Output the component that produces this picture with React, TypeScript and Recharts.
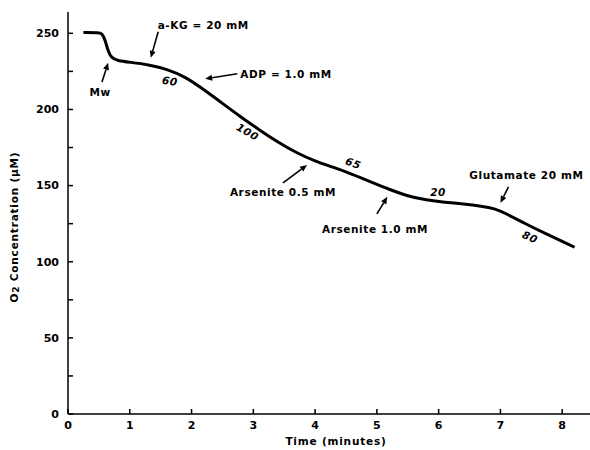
import React from 'react';
import {
  LineChart,
  Line,
  XAxis,
  YAxis,
  ReferenceDot,
  ReferenceLine,
  Label,
} from 'recharts';

// oxygen trace (time in min, O2 in µM)
const times = [0.25, 0.5, 0.55, 0.6, 0.65, 0.7, 0.8, 1.0, 1.3, 1.6, 1.9, 2.2, 2.5, 2.8, 3.1, 3.4, 3.7, 4.0, 4.3, 4.6, 4.9, 5.2, 5.5, 5.8, 6.1, 6.4, 6.7, 6.9, 7.1, 7.4, 7.7, 8.0, 8.2];
const o2 = [250.5, 250.5, 250, 246, 238, 234, 232, 231, 229.5, 226.5, 221.5, 213, 204, 195, 186.5, 178.5, 171.5, 166, 162, 157.5, 152.5, 147.5, 143, 140.5, 139, 138, 136.5, 135, 131.5, 125, 119, 113.5, 109.5];

const xTicks = [0, 1, 2, 3, 4, 5, 6, 7, 8];
const yTicks = [0, 25, 50, 75, 100, 125, 150, 175, 200, 225, 250];

// text annotations: label, time, O2, rotation
const noteText = ['a-KG = 20 mM', 'Mw', 'ADP = 1.0 mM', '60', '100', '65', '20', '80', 'Arsenite 0.5 mM', 'Arsenite 1.0 mM', 'Glutamate 20 mM'];
const noteX = [2.19, 0.52, 3.53, 1.65, 2.91, 4.62, 5.99, 7.48, 3.48, 4.97, 7.42];
const noteY = [255.6, 211.6, 223.4, 218.8, 185.3, 164.9, 145.9, 116.3, 145.9, 121.5, 157];
const noteRot = [0, 0, 0, 10, 30, 20, 0, 25, 0, 0, 0];

// arrows: tail -> tip
const arrowFrom = [[0.55, 218], [1.46, 251], [2.74, 223.4], [3.48, 151.8], [5.0, 131.4], [7.13, 149.1]];
const arrowTo = [[0.65, 230.6], [1.34, 233.9], [2.22, 220.1], [3.87, 163.6], [5.17, 142.6], [7.0, 138.6]];

const data = times.map((t, i) => ({ t, o2: o2[i] }));

const FONT = '"DejaVu Sans", sans-serif';

const Arrow = (p: any) => {
  const { x1, y1, x2, y2 } = p;
  const dx = x2 - x1;
  const dy = y2 - y1;
  const len = Math.sqrt(dx * dx + dy * dy) || 1;
  const ux = dx / len;
  const uy = dy / len;
  const hl = 7;
  const hw = 3;
  const bx = x2 - ux * hl;
  const by = y2 - uy * hl;
  const pts = `${x2},${y2} ${bx - uy * hw},${by + ux * hw} ${bx + uy * hw},${by - ux * hw}`;
  return (
    <g>
      <line x1={x1} y1={y1} x2={bx} y2={by} stroke="#000" strokeWidth={1.6} />
      <polygon points={pts} fill="#000" />
    </g>
  );
};

const noteShape = (text: string, rot: number) => (p: any) => (
  <text
    x={p.cx}
    y={p.cy}
    textAnchor="middle"
    dominantBaseline="central"
    fontFamily={FONT}
    fontWeight="bold"
    fontSize={10.5}
    letterSpacing={0.6}
    fill="#000"
    transform={rot ? `rotate(${rot} ${p.cx} ${p.cy})` : undefined}
    fontStyle={/^\d+$/.test(text) ? 'italic' : 'normal'}
  >
    {text}
  </text>
);

export default function App() {
  return (
    <div style={{ position: 'absolute', left: 0, top: 0, width: 590, height: 450, background: '#fff' }}>
      <LineChart width={590} height={450} data={data} margin={{ top: 12, right: 0, left: 0, bottom: 0 }}>
        <XAxis
          dataKey="t"
          type="number"
          domain={[0, 8.45]}
          ticks={xTicks}
          allowDataOverflow
          height={36}
          tickSize={-5}
          tickMargin={12}
          stroke="#000"
          strokeWidth={1.5}
          tick={{ fill: '#000', fontFamily: FONT, fontWeight: 'bold', fontSize: 11 }}
        >
          <Label
            content={() => (
              <text x={336} y={441} textAnchor="middle" dominantBaseline="central" fontFamily={FONT} fontWeight="bold" fontSize={10.5} letterSpacing={0.8} fill="#000">
                Time (minutes)
              </text>
            )}
          />
        </XAxis>
        <YAxis
          type="number"
          domain={[0, 264]}
          ticks={yTicks}
          allowDataOverflow
          width={68}
          tickSize={-5}
          tickMargin={14}
          stroke="#000"
          strokeWidth={1.5}
          tickFormatter={(v: number) => (v % 50 === 0 ? String(v) : '')}
          tick={{ fill: '#000', fontFamily: FONT, fontWeight: 'bold', fontSize: 11 }}
        >
          <Label
            content={() => (
              <text x={14} y={227} transform="rotate(-90 14 227)" textAnchor="middle" dominantBaseline="central" fontFamily={FONT} fontWeight="bold" fontSize={10.5} letterSpacing={0.8} fill="#000">
                O<tspan fontSize={9} dy={2}>2</tspan>
                <tspan dy={-2}> Concentration (µM)</tspan>
              </text>
            )}
          />
        </YAxis>
        <Line
          type="basis"
          dataKey="o2"
          stroke="#000"
          strokeWidth={3}
          dot={false}
          isAnimationActive={false}
        />
        {arrowFrom.map((f, i) => (
          <ReferenceLine
            key={`a${i}`}
            segment={[{ x: f[0], y: f[1] }, { x: arrowTo[i][0], y: arrowTo[i][1] }]}
            shape={Arrow}
            ifOverflow="visible"
          />
        ))}
        {noteText.map((s, i) => (
          <ReferenceDot
            key={`n${i}`}
            x={noteX[i]}
            y={noteY[i]}
            r={0}
            ifOverflow="visible"
            shape={noteShape(s, noteRot[i])}
          />
        ))}
      </LineChart>
    </div>
  );
}
